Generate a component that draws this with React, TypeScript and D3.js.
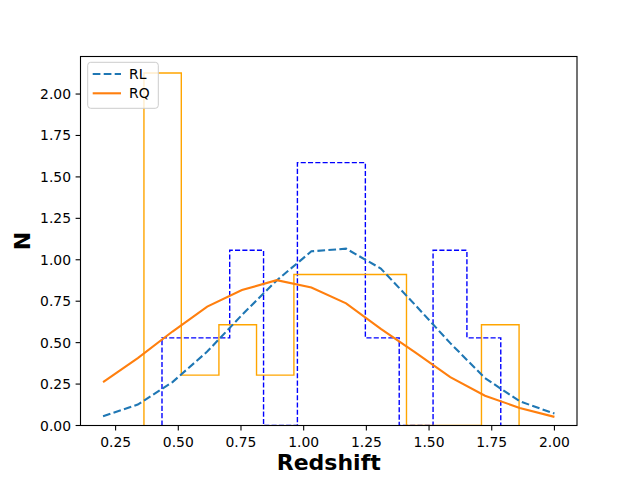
import React from 'react';
import * as d3 from 'd3';

// KDE sample points (linspace 0.2 .. 2.0, 14 points)
const kdeX = [0.2, 0.3385, 0.4769, 0.6154, 0.7538, 0.8923, 1.0308, 1.1692, 1.3077, 1.4462, 1.5846, 1.7231, 1.8615, 2.0];
const rlKde = [0.056, 0.126, 0.262, 0.446, 0.667, 0.875, 1.051, 1.067, 0.947, 0.725, 0.497, 0.286, 0.146, 0.072];
const rqKde = [0.262, 0.407, 0.567, 0.717, 0.817, 0.877, 0.833, 0.737, 0.583, 0.44, 0.292, 0.18, 0.106, 0.052];

// histogram bins (density)
const rlEdges = [0.435, 0.570, 0.705, 0.840, 0.975, 1.111, 1.246, 1.381, 1.516, 1.651, 1.786];
const rlHeights = [0.529, 0.529, 1.057, 0, 1.586, 1.586, 0.529, 0, 1.057, 0.529];
const rqEdges = [0.363, 0.512, 0.662, 0.812, 0.961, 1.111, 1.260, 1.410, 1.560, 1.709, 1.859];
const rqHeights = [2.127, 0.304, 0.608, 0.304, 0.911, 0.911, 0.911, 0, 0, 0.608];

const xTicks = [0.25, 0.5, 0.75, 1.0, 1.25, 1.5, 1.75, 2.0];
const yTicks = [0, 0.25, 0.5, 0.75, 1.0, 1.25, 1.5, 1.75, 2.0];

const width = 641;
const height = 479;
const plot = { left: 80.5, right: 577, top: 56.5, bottom: 425.5 };
const font = '"DejaVu Sans", sans-serif';

const x = d3.scaleLinear().domain([0.11, 2.09]).range([plot.left, plot.right]);
const y = d3.scaleLinear().domain([0, 2.2265]).range([plot.bottom, plot.top]);

// step outline like matplotlib histtype='step'
const stepPath = (edges: number[], heights: number[]) => {
  const pts: [number, number][] = [[edges[0], 0]];
  heights.forEach((h, i) => {
    pts.push([edges[i], h]);
    pts.push([edges[i + 1], h]);
  });
  pts.push([edges[edges.length - 1], 0]);
  return d3.line<[number, number]>().x(d => x(d[0])).y(d => y(d[1]))(pts) as string;
};

const curve = (vals: number[]) =>
  d3.line<number>().x((_, i) => x(kdeX[i])).y(d => y(d))(vals) as string;

export default function App() {
  return (
    <>
      <style>{`body{margin:0}`}</style>
      <svg width={width} height={height} style={{ display: 'block', background: '#fff' }}>
        <defs>
          <clipPath id="plotClip">
            <rect x={plot.left} y={plot.top} width={plot.right - plot.left} height={plot.bottom - plot.top} />
          </clipPath>
        </defs>
        <rect x={0} y={0} width={width} height={height} fill="#fff" />

        <g clipPath="url(#plotClip)">
          {/* histograms */}
          <path d={stepPath(rlEdges, rlHeights)} fill="none" stroke="#0000ff" strokeWidth={1.4}
            strokeDasharray="5.1,2.2" />
          <path d={stepPath(rqEdges, rqHeights)} fill="none" stroke="#ffa500" strokeWidth={1.4} />

          {/* KDE curves */}
          <path d={curve(rlKde)} fill="none" stroke="#1f77b4" strokeWidth={2.1}
            strokeDasharray="7.7,3.3" />
          <path d={curve(rqKde)} fill="none" stroke="#ff7f0e" strokeWidth={2.1} />
        </g>

        {/* frame */}
        <rect x={plot.left} y={plot.top} width={plot.right - plot.left} height={plot.bottom - plot.top}
          fill="none" stroke="#000" strokeWidth={1.1} />

        {/* x axis */}
        {xTicks.map(t => (
          <g key={'x' + t}>
            <line x1={x(t)} x2={x(t)} y1={plot.bottom} y2={plot.bottom + 4.9} stroke="#000" strokeWidth={1.1} />
            <text x={x(t)} y={plot.bottom + 21.5} textAnchor="middle" fontFamily={font} fontSize={13.9}>
              {t.toFixed(2)}
            </text>
          </g>
        ))}
        {/* y axis */}
        {yTicks.map(t => (
          <g key={'y' + t}>
            <line x1={plot.left - 4.9} x2={plot.left} y1={y(t)} y2={y(t)} stroke="#000" strokeWidth={1.1} />
            <text x={plot.left - 9.5} y={y(t) + 5} textAnchor="end" fontFamily={font} fontSize={13.9}>
              {t.toFixed(2)}
            </text>
          </g>
        ))}

        {/* axis titles */}
        <text x={(plot.left + plot.right) / 2} y={470} textAnchor="middle" fontFamily={font}
          fontSize={22} fontWeight="bold">Redshift</text>
        <text transform={`translate(30,${(plot.top + plot.bottom) / 2}) rotate(-90)`} textAnchor="middle"
          fontFamily={font} fontSize={22} fontWeight="bold">N</text>

        {/* legend */}
        <g>
          <rect x={87.7} y={62.3} width={70.6} height={46} rx={3} fill="#fff" fillOpacity={0.8}
            stroke="#cccccc" strokeWidth={1} />
          <line x1={92.7} x2={121} y1={74} y2={74} stroke="#1f77b4" strokeWidth={2.1} strokeDasharray="7.7,3.3" />
          <text x={129} y={79} fontFamily={font} fontSize={13.9}>RL</text>
          <line x1={92.7} x2={121} y1={93.3} y2={93.3} stroke="#ff7f0e" strokeWidth={2.1} />
          <text x={129} y={98.3} fontFamily={font} fontSize={13.9}>RQ</text>
        </g>
      </svg>
    </>
  );
}
